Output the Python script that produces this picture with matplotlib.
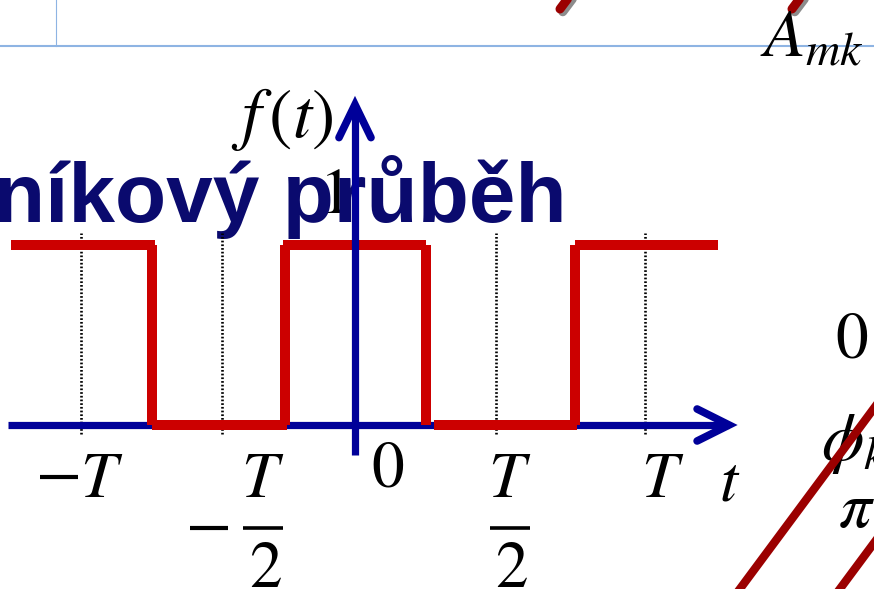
import matplotlib.pyplot as plt
import matplotlib.patheffects as pe

plt.rcParams['mathtext.fontset'] = 'stix'

# square wave f(t), time measured in periods T, amplitude 1
amplitude = 1.0
high_segments = [(-1.186, -0.690), (-0.248, 0.245), (0.759, 1.252)]
low_segments = [(-0.700, -0.234), (0.272, 0.766)]
edge_times = [-0.700, -0.241, 0.245, 0.759]

# dotted guides at -T, -T/2, T/2, T
guide_times = [-0.945, -0.459, 0.486, 1.0]
guide_signs = ['-', '-', '', '']
guide_nums = ['T', 'T', 'T', 'T']
guide_dens = ['', '2', '2', '']

W, H = 874, 589
SX, SY = 290.0, 180.0      # pixels per unit of t and f
X0, Y0 = 355, 425          # pixel position of the origin

BLUE = '#000099'
RED = '#cc0000'
DARKRED = '#9b0000'
NAVY = '#0a0a6e'
FS = 47

fig = plt.figure(figsize=(W / 100, H / 100), dpi=100)
ax = fig.add_axes([0, 0, 1, 1])
ax.set_xlim(-X0 / SX, (W - X0) / SX)
ax.set_ylim(-(H - Y0) / SY, Y0 / SY)
ax.axis('off')


def fx(x):
    return x / W


def fy(y):
    return 1 - y / H


# slide bits around the chart
ax.plot([0, 1], [fy(46), fy(46)], color='#8eb4e3', lw=1.5, transform=ax.transAxes)
ax.plot([fx(56), fx(56)], [fy(46), 1], color='#8eb4e3', lw=0.8, transform=ax.transAxes)
ax.text(fx(-6), fy(222), 'níkový průběh', transform=ax.transAxes, fontsize=60.3,
        fontweight='bold', family='Liberation Sans', color=NAVY, va='baseline',
        ha='left', zorder=2)
ax.text(fx(760), fy(57), r'$A_{mk}$', transform=ax.transAxes, fontsize=49,
        va='baseline', ha='left')
ax.text(fx(852), fy(358), r'$0$', transform=ax.transAxes, fontsize=FS,
        va='baseline', ha='center')
ax.text(fx(821), fy(460), r'$\phi_k$', transform=ax.transAxes, fontsize=49,
        va='baseline', ha='left', zorder=1)
ax.text(fx(838), fy(527), r'$\pi$', transform=ax.transAxes, fontsize=FS,
        va='baseline', ha='left', zorder=1)

shadow = [pe.SimpleLineShadow(offset=(2, -2), shadow_color='k', alpha=0.45), pe.Normal()]
for xb in (560, 792):
    ax.plot([fx(xb), fx(xb + 30)], [fy(9), fy(-31)], color=DARKRED, lw=6.5,
            solid_capstyle='round', transform=ax.transAxes, path_effects=shadow)
for xb in (725, 825):
    ax.plot([fx(xb), fx(xb + 164)], [fy(609), fy(388)], color=DARKRED, lw=6,
            transform=ax.transAxes, zorder=6)

# guides
for t in guide_times:
    ax.plot([t, t], [-0.05, 1.067], color='k', lw=1.9, linestyle=(0, (0.65, 0.75)), zorder=2)

# axes with open arrowheads
t_end, f_end = 1.29, 1.78
ax.plot([-1.197, t_end], [0, 0], color=BLUE, lw=5.2, solid_capstyle='butt', zorder=3)
ax.plot([t_end - 32 / SX, t_end, t_end - 32 / SX], [16 / SY, 0, -16 / SY], color=BLUE,
        lw=5.5, solid_capstyle='round', solid_joinstyle='miter', zorder=3)
ax.plot([0, 0], [-30 / SY, f_end], color=BLUE, lw=5.2, solid_capstyle='butt', zorder=5)
ax.plot([-16 / SX, 0, 16 / SX], [f_end - 33 / SY, f_end, f_end - 33 / SY], color=BLUE,
        lw=5.5, solid_capstyle='round', solid_joinstyle='miter', zorder=5)

# square wave
for a, b in high_segments:
    ax.plot([a, b], [amplitude, amplitude], color=RED, lw=7.2, solid_capstyle='butt', zorder=4)
for a, b in low_segments:
    ax.plot([a, b], [0, 0], color=RED, lw=7.2, solid_capstyle='butt', zorder=4)
for t in edge_times:
    ax.plot([t, t], [0, amplitude], color=RED, lw=7.2, solid_capstyle='butt', zorder=4)

# axis names
ax.text(-0.25, 1.6, r'$f\,(t)$', fontsize=50, ha='center', va='baseline')
ax.text(-0.076, 1.178, r'$1$', fontsize=FS, ha='center', va='baseline', zorder=1)
ax.text(0.114, -0.344, r'$0$', fontsize=FS, ha='center', va='baseline')
ax.text(1.293, -0.417, r'$t$', fontsize=FS, ha='center', va='baseline')

# tick labels: whole periods on one line, half periods as stacked fractions
num_x = [-0.872, -0.317, 0.534, 1.062]
sign_x = [-1.022, -0.502, 0, 0]
num_base, bar_y, den_base = -0.4, -0.572, -0.9
for t, sign, num, den, nx, sx in zip(guide_times, guide_signs, guide_nums, guide_dens,
                                     num_x, sign_x):
    ax.text(nx, num_base, '$' + num + '$', fontsize=FS, ha='center', va='baseline')
    if den:
        ax.plot([nx - 20 / SX, nx + 20 / SX], [bar_y, bar_y], color='k', lw=2.6,
                solid_capstyle='butt')
        ax.text(nx + 2 / SX, den_base, '$' + den + '$', fontsize=FS, ha='center',
                va='baseline')
    if sign:
        y = bar_y if den else -0.289
        ax.plot([sx - 19 / SX, sx + 19 / SX], [y, y], color='k', lw=3.0,
                solid_capstyle='butt')

fig.savefig('out.png', dpi=100)
